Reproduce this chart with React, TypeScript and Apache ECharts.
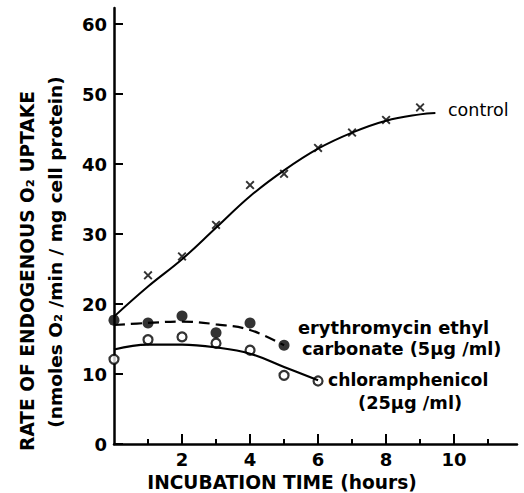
import React, { useEffect, useRef } from "react";
import * as echarts from "echarts";

const controlTimes = [1, 2, 3, 4, 5, 6, 7, 8, 9];
const controlValues = [24.1, 26.8, 31.3, 37.0, 38.6, 42.3, 44.5, 46.3, 48.1];
const controlFitTimes = [0, 1, 2, 3, 4, 5, 6, 7, 8, 9, 9.45];
const controlFitValues = [18.2, 22.5, 26.4, 30.9, 35.4, 39.1, 42.2, 44.5, 46.2, 47.1, 47.3];

const eryTimes = [0, 1, 2, 3, 4, 5];
const eryValues = [17.7, 17.3, 18.3, 15.9, 17.3, 14.1];
const eryFitValues = [17.0, 17.3, 17.5, 17.1, 16.3, 14.1];

const chlorTimes = [0, 1, 2, 3, 4, 5, 6];
const chlorValues = [12.1, 14.9, 15.3, 14.4, 13.4, 9.8, 9.0];
const chlorFitValues = [13.5, 14.2, 14.2, 13.8, 12.9, 11.0, 9.1];

const yTicks = [0, 10, 20, 30, 40, 50, 60];
const xMajorTicks = [2, 4, 6, 8, 10];
const xMinorTicks = [1, 3, 5, 7, 9, 11];

const zip = (xs: number[], ys: number[]) => xs.map((x, i) => [x, ys[i]]);

const CROSS = "path://M1.5,0L5,3.5L8.5,0L10,1.5L6.5,5L10,8.5L8.5,10L5,6.5L1.5,10L0,8.5L3.5,5L0,1.5Z";
const FONT = "DejaVu Sans";

export default function App() {
  const ref = useRef<HTMLDivElement>(null);
  useEffect(() => {
    document.body.style.margin = "0";
    const chart = echarts.init(ref.current!, null, { renderer: "svg" });
    const xBase = {
      type: "value" as const,
      min: 0,
      max: 11.85,
      splitLine: { show: false },
    };
    const txt = (text: string, x: number, y: number, font: string, align = "left") => ({
      type: "text",
      x,
      y,
      style: { text, fill: "#000", font, align, verticalAlign: "middle" },
    });
    chart.setOption({
      animation: false,
      backgroundColor: "#fff",
      grid: { left: 114, right: 7, top: 8, bottom: 49 },
      xAxis: [
        {
          ...xBase,
          position: "bottom",
          axisLine: { show: true, lineStyle: { color: "#000", width: 2.5 } },
          axisTick: {
            show: true,
            inside: true,
            length: 10,
            customValues: xMajorTicks,
            lineStyle: { color: "#000", width: 2 },
          },
          axisLabel: {
            customValues: xMajorTicks,
            margin: 6,
            color: "#000",
            fontSize: 18,
            fontWeight: "bold",
            fontFamily: FONT,
          },
        },
        {
          ...xBase,
          position: "bottom",
          axisLine: { show: false },
          axisTick: {
            show: true,
            inside: true,
            length: 5,
            customValues: xMinorTicks,
            lineStyle: { color: "#000", width: 2 },
          },
          axisLabel: { show: false },
        },
      ],
      yAxis: {
        type: "value",
        min: 0,
        max: 62.3,
        splitLine: { show: false },
        axisLine: { show: true, lineStyle: { color: "#000", width: 2.5 } },
        axisTick: {
          show: true,
          inside: true,
          length: 9,
          customValues: yTicks,
          lineStyle: { color: "#000", width: 2 },
        },
        axisLabel: {
          customValues: yTicks,
          margin: 7,
          color: "#000",
          fontSize: 18,
          fontWeight: "bold",
          fontFamily: FONT,
        },
      },
      series: [
        {
          type: "line",
          data: zip(controlFitTimes, controlFitValues),
          smooth: 0.4,
          showSymbol: false,
          lineStyle: { color: "#000", width: 2 },
        },
        {
          type: "scatter",
          data: zip(controlTimes, controlValues),
          symbol: CROSS,
          symbolSize: 9,
          itemStyle: { color: "#000" },
        },
        {
          type: "line",
          data: zip(eryTimes, eryFitValues),
          smooth: 0.4,
          showSymbol: false,
          lineStyle: { color: "#000", width: 2.2, type: [11, 6] },
        },
        {
          type: "line",
          data: zip(chlorTimes, chlorFitValues),
          smooth: 0.4,
          showSymbol: false,
          lineStyle: { color: "#000", width: 2.2 },
        },
        {
          type: "scatter",
          data: zip(eryTimes, eryValues),
          symbol: "circle",
          symbolSize: 11,
          itemStyle: { color: "#000" },
        },
        {
          type: "scatter",
          data: zip(chlorTimes, chlorValues),
          symbol: "circle",
          symbolSize: 9,
          itemStyle: { color: "#fff", borderColor: "#000", borderWidth: 2.2 },
        },
      ],
      graphic: [
        {
          type: "text",
          x: 27,
          y: 271,
          rotation: Math.PI / 2,
          style: {
            text: "RATE OF ENDOGENOUS O₂ UPTAKE",
            fill: "#000",
            font: `bold 18.6px "${FONT}"`,
            align: "center",
            verticalAlign: "middle",
          },
        },
        {
          type: "text",
          x: 55,
          y: 252,
          rotation: Math.PI / 2,
          style: {
            text: "(nmoles O₂ /min / mg cell protein)",
            fill: "#000",
            font: `bold 18.5px "${FONT}"`,
            align: "center",
            verticalAlign: "middle",
          },
        },
        txt("INCUBATION TIME (hours)", 282, 482, `bold 18.6px "${FONT}"`, "center"),
        txt("control", 448, 110, `17.5px "${FONT}"`),
        txt("erythromycin ethyl", 298, 327, `bold 17.8px "${FONT}"`),
        txt("carbonate (5μg /ml)", 302, 348, `bold 17.8px "${FONT}"`),
        txt("chloramphenicol", 328, 380, `bold 17.2px "${FONT}"`),
        txt("(25μg /ml)", 358, 402, `bold 17.8px "${FONT}"`),
      ],
    });
    return () => chart.dispose();
  }, []);
  return <div ref={ref} style={{ width: 524, height: 493 }} />;
}
